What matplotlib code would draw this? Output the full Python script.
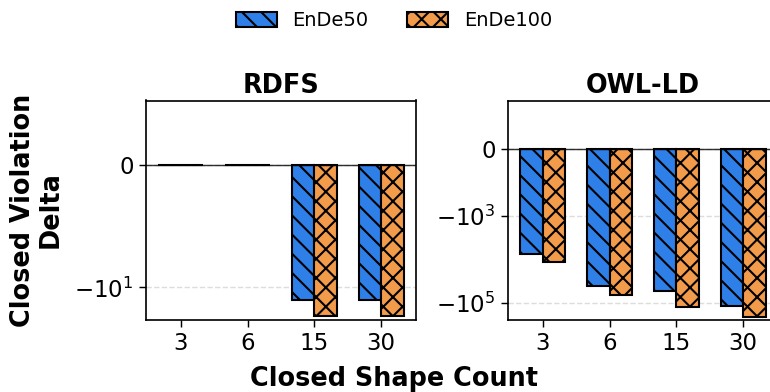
import numpy as np
import matplotlib
matplotlib.use("Agg")
import matplotlib.pyplot as plt

# closed shape counts on the x axis
shape_counts = ["3", "6", "15", "30"]
series_names = ["EnDe50", "EnDe100"]

# closed violation delta per reasoning profile
rdfs_ende50 = [0, 0, -16.5, -16.5]
rdfs_ende100 = [0, 0, -31, -31]
owl_ende50 = [-7700, -40600, -53000, -119000]
owl_ende100 = [-11400, -67600, -126000, -210000]

colors = ["#2F7FE8", "#F29B4B"]
hatches = ["\\\\", "xx"]

DPI = 115
plt.rcParams["hatch.linewidth"] = 1.3
plt.rcParams["font.family"] = "DejaVu Sans"

fig = plt.figure(figsize=(770 / DPI, 392 / DPI), dpi=DPI)
ax1 = fig.add_axes([146 / 770, 72 / 392, 270 / 770, 219.5 / 392])
ax2 = fig.add_axes([508 / 770, 72 / 392, 270 / 770, 219.5 / 392])

x = np.arange(len(shape_counts))
w = 0.34

panels = [
    (ax1, "RDFS", [rdfs_ende50, rdfs_ende100], 1, (-36.5, 1), [0, -10]),
    (ax2, "OWL-LD", [owl_ende50, owl_ende100], 380, (-2.5e5, 380), [0, -1e3, -1e5]),
]

handles = []
for ax, title, data, lt, ylim, ticks in panels:
    ax.set_yscale("symlog", linthresh=lt)
    bars = []
    for i, vals in enumerate(data):
        b = ax.bar(x + (i - 0.5) * w, vals, w, color=colors[i], hatch=hatches[i],
                   edgecolor="black", linewidth=1.3, label=series_names[i], zorder=3)
        bars.append(b)
    handles = bars
    ax.axhline(0, color="black", linewidth=0.9, alpha=0.8, zorder=4)
    ax.set_ylim(*ylim)
    ax.set_xlim(-0.52, 3.52)
    ax.set_yticks(ticks)
    ax.minorticks_off()
    ax.yaxis.grid(True, linestyle="--", color="#dddddd", linewidth=0.9, zorder=0)
    ax.set_xticks(x)
    ax.set_xticklabels(shape_counts)
    ax.tick_params(labelsize=14.3, length=4.3, width=0.9)
    ax.set_title(title, fontsize=16, fontweight="bold", pad=5)
    for s in ax.spines.values():
        s.set_linewidth(1.05)

fig.text(37 / 770, 1 - 210 / 392, "Closed Violation\nDelta", rotation=90, ha="center", va="center",
         fontsize=16, fontweight="bold", multialignment="center", linespacing=1.05)
fig.text(394 / 770, 1 - 379 / 392, "Closed Shape Count", ha="center", va="center",
         fontsize=16, fontweight="bold")

fig.legend(handles, series_names, loc="center", bbox_to_anchor=(394 / 770, 1 - 21 / 392),
           ncol=2, frameon=False, fontsize=12.2, handlelength=2.1, handleheight=0.8,
           columnspacing=2.0)

fig.savefig("out.png", dpi=DPI)
